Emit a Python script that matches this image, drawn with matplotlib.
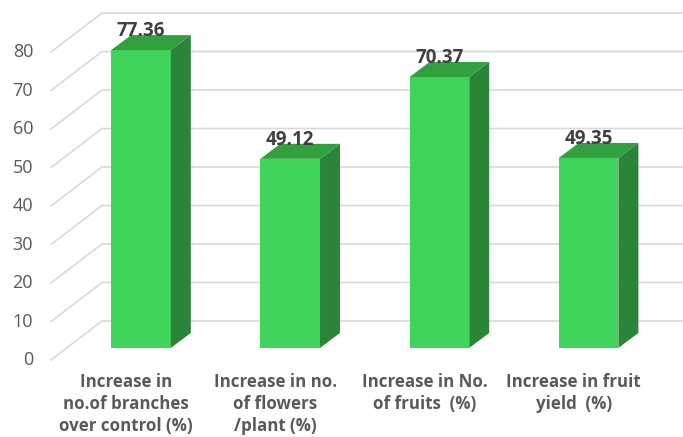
import matplotlib
matplotlib.use('Agg')
import matplotlib.pyplot as plt
from matplotlib.patches import Polygon

# values
categories = ['Increase in\nno.of branches\nover control (%)',
              'Increase in no.\nof flowers\n/plant (%)',
              'Increase in No.\nof fruits  (%)',
              'Increase in fruit\nyield  (%)']
values = [77.36, 49.12, 70.37, 49.35]
value_labels = ['77.36', '49.12', '70.37', '49.35']
ticks = [0, 10, 20, 30, 40, 50, 60, 70, 80]

FRONT = '#41D45C'
TOP = '#33A03F'
SIDE = '#2B8539'
GRID = '#D9D9D9'

# 3d look, offsets in data units
wall_dx = 0.342
wall_dy = 10.13
bar_width = 0.40
bar_dx = 0.134
bar_dy = 3.9
bar_base = -7.0

plt.rcParams['font.family'] = ['Open Sans', 'DejaVu Sans']

fig = plt.figure(figsize=(6.83, 4.37), dpi=100)
ax = fig.add_axes([0, 0, 1, 1])
ax.set_xlim(-0.945, 3.633)
ax.set_ylim(-30.13, 83.38)
ax.axis('off')

# floor / wall grid, tick value sits on the back wall
wall_x = -0.945 + 102 / 149.2
for t in ticks:
    back_y = t
    ax.plot([wall_x - wall_dx, wall_x, 3.633],
            [back_y - wall_dy, back_y, back_y],
            color=GRID, lw=1.2, zorder=1, solid_joinstyle='miter')
    ax.text(wall_x - wall_dx - 0.12, back_y - wall_dy, str(t), ha='right', va='center',
            fontsize=13, color='#595959')

for i, v in enumerate(values):
    x0 = i - bar_width / 2
    x1 = i + bar_width / 2
    y0 = bar_base
    y1 = bar_base + v
    ax.add_patch(Polygon([(x0, y0), (x1, y0), (x1, y1), (x0, y1)],
                         facecolor=FRONT, edgecolor='none', zorder=3))
    ax.add_patch(Polygon([(x0, y1), (x1, y1), (x1 + bar_dx, y1 + bar_dy), (x0 + bar_dx, y1 + bar_dy)],
                         facecolor=TOP, edgecolor='none', zorder=3))
    ax.add_patch(Polygon([(x1, y0), (x1 + bar_dx, y0 + bar_dy), (x1 + bar_dx, y1 + bar_dy), (x1, y1)],
                         facecolor=SIDE, edgecolor='none', zorder=3))
    ax.text(i, y1 + 5.0, value_labels[i], ha='center', va='center', fontsize=13.5,
            fontweight='bold', color='#404040', zorder=4)
    ax.text(i - 0.1, -13.5, categories[i], ha='center', va='top', fontsize=12.2,
            fontweight='bold', color='#595959', linespacing=1.28, zorder=4)

fig.savefig('out.png', dpi=100, facecolor='white')
